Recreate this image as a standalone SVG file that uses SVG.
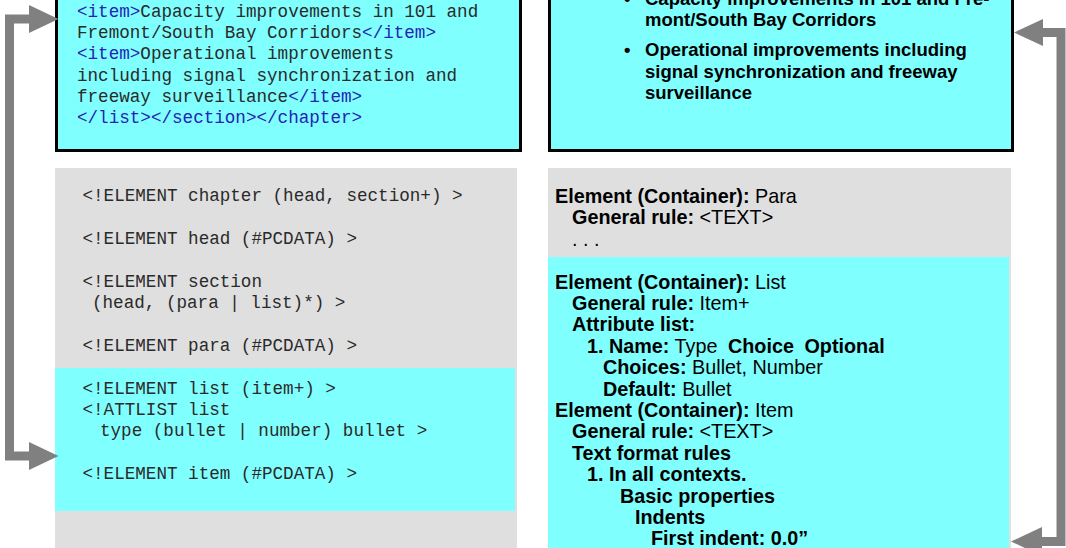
<svg xmlns="http://www.w3.org/2000/svg" width="1066" height="548" viewBox="0 0 1066 548">
<style>
.mono{font-family:"Liberation Mono","Courier New",monospace;font-size:17.6px;fill:#2a2a2a}
.tg{fill:#2424B4}
.sans{font-family:"Liberation Sans",Arial,sans-serif;font-weight:bold;fill:#000}
.tr{font-size:18.5px}
.br{font-size:19.8px}
.n{font-weight:normal}
.cy{fill:#80FFFF}
.gr{fill:#DFDFDF}
.conn{fill:none;stroke:#808080;stroke-width:9;stroke-linejoin:miter}
.head{fill:#808080}
</style>
<rect width="1066" height="548" fill="#fff"/>
<g id="xml-source">
<rect class="cy" x="56.5" y="-20" width="464" height="170.5" stroke="#000" stroke-width="3"/>
<text class="mono">
<tspan x="77" y="17"><tspan class="tg">&lt;item&gt;</tspan>Capacity improvements in 101 and</tspan>
<tspan x="77" y="38.2">Fremont/South Bay Corridors<tspan class="tg">&lt;/item&gt;</tspan></tspan>
<tspan x="77" y="59.4"><tspan class="tg">&lt;item&gt;</tspan>Operational improvements</tspan>
<tspan x="77" y="80.6">including signal synchronization and</tspan>
<tspan x="77" y="101.8">freeway surveillance<tspan class="tg">&lt;/item&gt;</tspan></tspan>
<tspan x="77" y="123" class="tg">&lt;/list&gt;&lt;/section&gt;&lt;/chapter&gt;</tspan>
</text>
</g>
<g id="formatted-output">
<rect class="cy" x="549.5" y="-20" width="463" height="170.5" stroke="#000" stroke-width="3"/>
<text class="sans tr">
<tspan x="624" y="4.5">•</tspan><tspan x="645" y="4.5">Capacity improvements in 101 and Fre-</tspan>
<tspan x="645" y="26">mont/South Bay Corridors</tspan>
<tspan x="624" y="56">•</tspan><tspan x="645" y="56">Operational improvements including</tspan>
<tspan x="645" y="77.5">signal synchronization and freeway</tspan>
<tspan x="645" y="99">surveillance</tspan>
</text>
</g>
<g id="dtd">
<rect class="gr" x="55" y="168" width="462" height="380"/>
<rect class="cy" x="55" y="368" width="460" height="143"/>
<text class="mono">
<tspan x="82.5" y="201">&lt;!ELEMENT chapter (head, section+) &gt;</tspan>
<tspan x="82.5" y="243.8">&lt;!ELEMENT head (#PCDATA) &gt;</tspan>
<tspan x="82.5" y="286.6">&lt;!ELEMENT section</tspan>
<tspan x="92" y="308">(head, (para | list)*) &gt;</tspan>
<tspan x="82.5" y="350.8">&lt;!ELEMENT para (#PCDATA) &gt;</tspan>
<tspan x="82.5" y="393.6">&lt;!ELEMENT list (item+) &gt;</tspan>
<tspan x="82.5" y="415">&lt;!ATTLIST list</tspan>
<tspan x="100" y="436.4">type (bullet | number) bullet &gt;</tspan>
<tspan x="82.5" y="479.2">&lt;!ELEMENT item (#PCDATA) &gt;</tspan>
</text>
</g>
<g id="eds">
<rect class="gr" x="548" y="168" width="463" height="380"/>
<rect class="cy" x="548" y="257" width="461" height="291"/>
<text class="sans br">
<tspan x="555" y="203">Element (Container):<tspan class="n"> Para</tspan></tspan>
<tspan x="572" y="224.4">General rule:<tspan class="n"> &lt;TEXT&gt;</tspan></tspan>
<tspan x="572" y="245.8" class="n">. . .</tspan>
<tspan x="555" y="288.6">Element (Container):<tspan class="n"> List</tspan></tspan>
<tspan x="572" y="310">General rule:<tspan class="n"> Item+</tspan></tspan>
<tspan x="572" y="331.4">Attribute list:</tspan>
<tspan x="587" y="352.8">1. Name:<tspan class="n"> Type</tspan><tspan dx="5"> Choice</tspan><tspan dx="5"> Optional</tspan></tspan>
<tspan x="603" y="374.2">Choices:<tspan class="n"> Bullet, Number</tspan></tspan>
<tspan x="603" y="395.6">Default:<tspan class="n"> Bullet</tspan></tspan>
<tspan x="555" y="417">Element (Container):<tspan class="n"> Item</tspan></tspan>
<tspan x="572" y="438.4">General rule:<tspan class="n"> &lt;TEXT&gt;</tspan></tspan>
<tspan x="572" y="459.8">Text format rules</tspan>
<tspan x="587" y="481.2">1. In all contexts.</tspan>
<tspan x="620" y="502.6">Basic properties</tspan>
<tspan x="635" y="524">Indents</tspan>
<tspan x="651" y="545.4">First indent: 0.0”</tspan>
</text>
</g>
<g id="connectors">
<path class="conn" d="M30,19 H9.5 V456 H30"/>
<polygon class="head" points="29,5 58.5,19 29,33"/>
<polygon class="head" points="29,442 58.5,456 29,470"/>
<path class="conn" d="M1043,32.5 H1061 V541.5 H1042"/>
<polygon class="head" points="1043,19 1014,32.5 1043,46"/>
<polygon class="head" points="1042,527 1011,541.5 1042,556"/>
</g>
</svg>
